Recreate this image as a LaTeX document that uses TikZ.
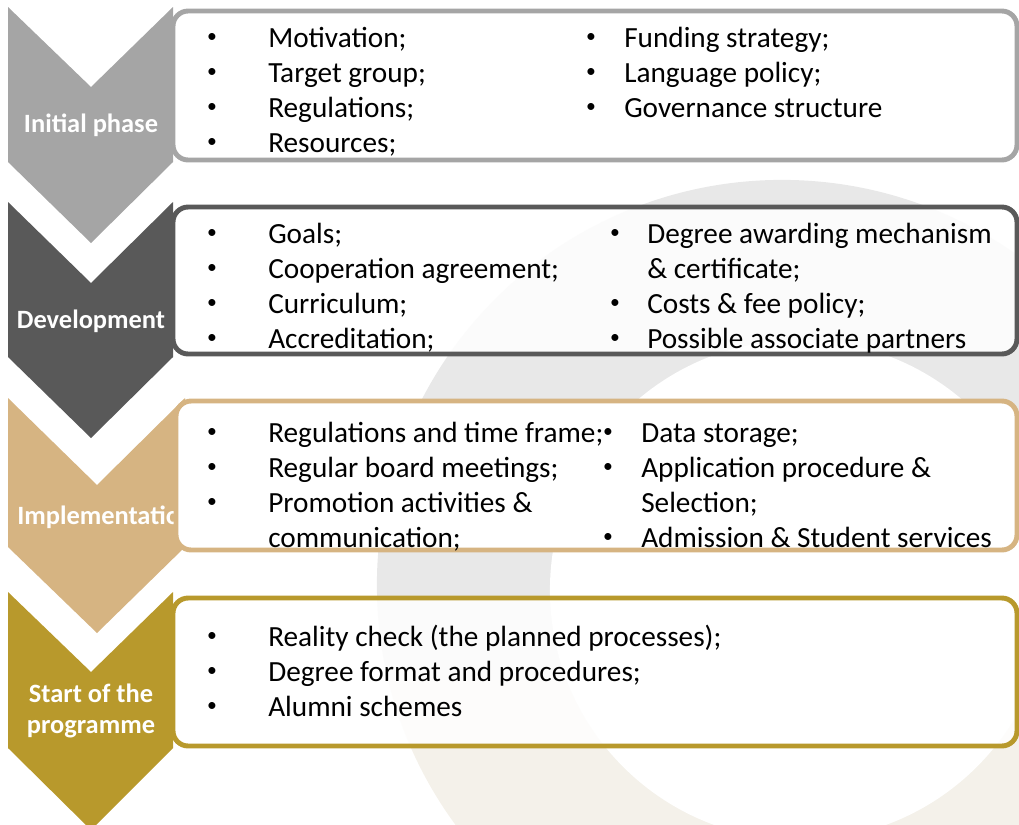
\documentclass[tikz,border=0pt]{standalone}
\usepackage{fontspec}
\setmainfont{Carlito}
\definecolor{phaseone}{HTML}{A5A5A5}
\definecolor{phasetwo}{HTML}{595959}
\definecolor{phasethree}{HTML}{D6B482}
\definecolor{phasefour}{HTML}{B8992C}
\definecolor{ringgray}{HTML}{E8E8E8}
\definecolor{ringbeige}{HTML}{F4F1EA}
\tikzset{
    itembox/.style={line width=3.5pt, fill=white, fill opacity=0.85, rounded corners=0.38cm},
    item/.style={anchor=base west, inner sep=0pt, font=\fontsize{20.8}{25}\selectfont},
    dot/.style={anchor=center, inner sep=0pt, font=\fontsize{14}{17}\selectfont},
    phaselabel/.style={text=white, align=center, font=\bfseries\fontsize{18.8}{21.5}\selectfont},
}

\begin{document}
\begin{tikzpicture}[x=0.025cm, y=-0.025cm]
        \useasboundingbox (0,0) rectangle (1019,824);

        % background ring
        \begin{scope}
            \clip (0,0) rectangle (1019,680);
            \fill [ringgray] (782,585) circle (10.125cm);
        \end{scope}
        \begin{scope}
            \clip (0,680) rectangle (1019,824);
            \fill [ringbeige] (782,585) circle (10.125cm);
        \end{scope}
        \fill [white] (800,590) circle (6.25cm);

        % boxes
        \draw [itembox, draw=phaseone] (173,11) rectangle (1017,160);
        \draw [itembox, draw=phasetwo] (173,207) rectangle (1017,354);
        \draw [itembox, draw=phasefour] (173,598) rectangle (1017,746);

        % chevrons
        \fill [phaseone] (8,7) -- (91,87) -- (173,7) -- (173,162) -- (91,243) -- (8,162) -- cycle;
        \fill [phasetwo] (8,202) -- (91,283) -- (173,202) -- (173,357) -- (91,438) -- (8,357) -- cycle;
        \fill [phasefour] (8,592) -- (91,672) -- (173,592) -- (173,748) -- (91,830) -- (8,748) -- cycle;
        \fill [phasethree] (8,398) -- (97,485) -- (185,398) -- (185,547) -- (97,633) -- (8,547) -- cycle;

        \node [phaselabel] (initial) at (91,125) {Initial phase};
        \node [phaselabel] (develop) at (91,321) {Development};
        \node [phaselabel, anchor=west, inner sep=0pt] (implement) at (17,517) {Implementation};
        \node [phaselabel] (start) at (91,711) {Start of the\\programme};

        \draw [itembox, draw=phasethree, fill opacity=1] (176,401) rectangle (1017,550);

        % initial phase
        \foreach \t [count=\i] in {Motivation;, Target group;, Regulations;, Resources;} {
            \node [dot] (inidotL\i) at (212,{3+35*\i}) {•};
            \node [item] (iniL\i) at (268,{12+35*\i}) {\t};
        }
        \foreach \t [count=\i] in {Funding strategy;, Language policy;, Governance structure} {
            \node [dot] (inidotR\i) at (591,{3+35*\i}) {•};
            \node [item] (iniR\i) at (624,{12+35*\i}) {\t};
        }

        % development
        \foreach \t [count=\i] in {Goals;, Cooperation agreement;, Curriculum;, Accreditation;} {
            \node [dot] (devdotL\i) at (212,{199+35*\i}) {•};
            \node [item] (devL\i) at (268,{208+35*\i}) {\t};
        }
        \node [dot] (devdotR1) at (615,234) {•};
        \node [item] (devR1) at (647,243) {Degree awarding mechanism};
        \node [item] (devR2) at (647,278) {\& certificate;};
        \node [dot] (devdotR3) at (615,304) {•};
        \node [item] (devR3) at (647,313) {Costs \& fee policy;};
        \node [dot] (devdotR4) at (615,339) {•};
        \node [item] (devR4) at (647,348) {Possible associate partners};

        % implementation
        \foreach \t [count=\i] in {Regulations and time frame;, Regular board meetings;, Promotion activities \&} {
            \node [dot] (impdotL\i) at (212,{398+35*\i}) {•};
            \node [item] (impL\i) at (268,{407+35*\i}) {\t};
        }
        \node [item] (impL4) at (268,547) {communication;};
        \node [dot] (impdotR1) at (608,433) {•};
        \node [item] (impR1) at (641,442) {Data storage;};
        \node [dot] (impdotR2) at (608,468) {•};
        \node [item] (impR2) at (641,477) {Application procedure \&};
        \node [item] (impR3) at (641,512) {Selection;};
        \node [dot] (impdotR4) at (608,538) {•};
        \node [item] (impR4) at (641,547) {Admission \& Student services};

        % start of the programme
        \foreach \t [count=\i] in {Reality check (the planned processes);, Degree format and procedures;, Alumni schemes} {
            \node [dot] (stadot\i) at (212,{602+35*\i}) {•};
            \node [item] (sta\i) at (268,{611+35*\i}) {\t};
        }
\end{tikzpicture}
\end{document}
